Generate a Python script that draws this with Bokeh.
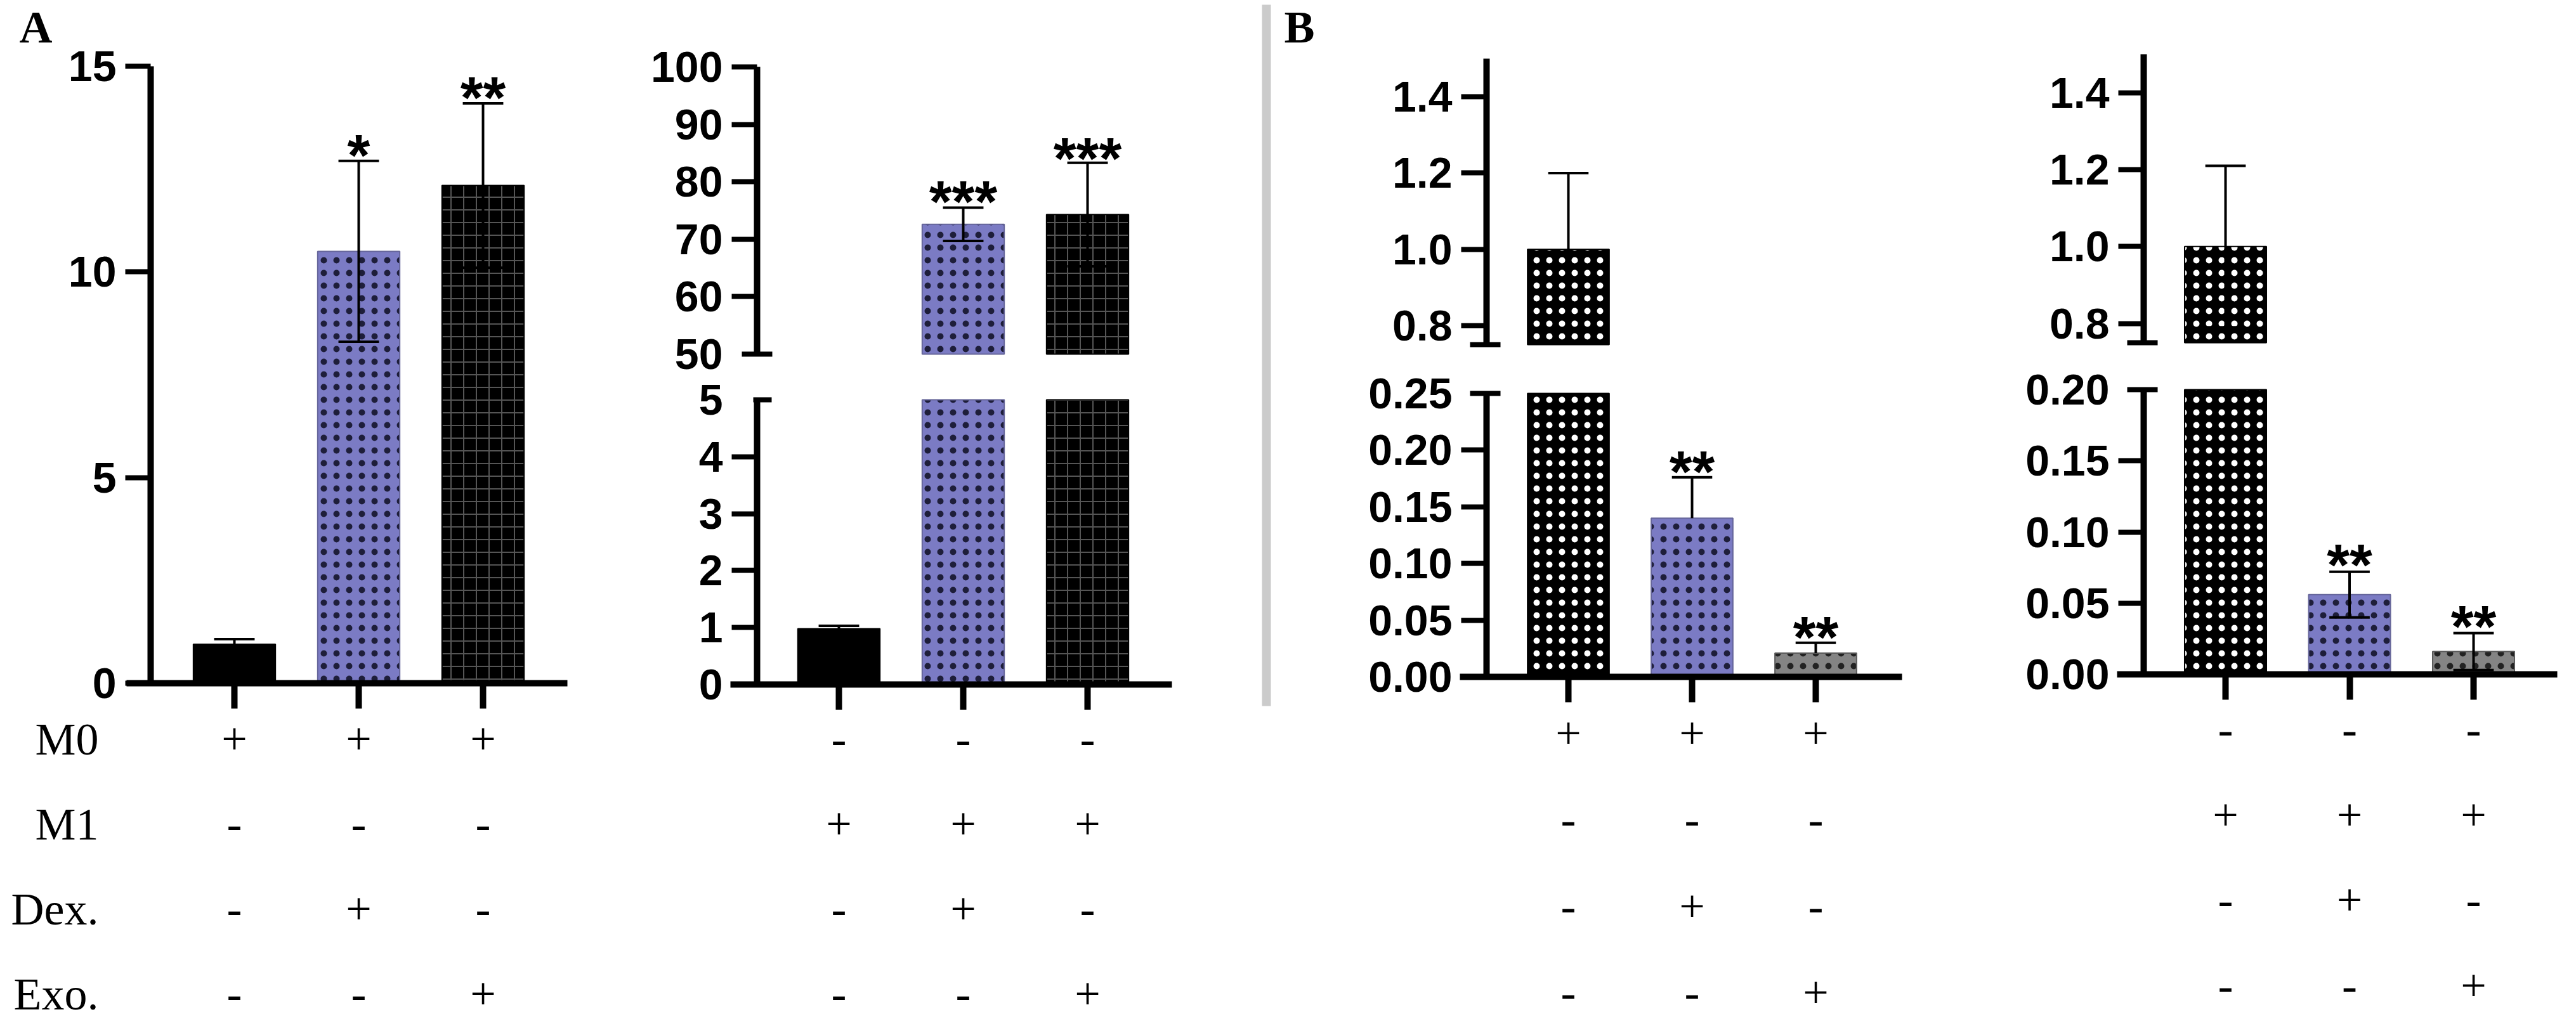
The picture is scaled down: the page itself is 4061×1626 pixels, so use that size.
import numpy as np
from bokeh.plotting import figure
from bokeh.layouts import row, column
from bokeh.models import Range1d, FixedTicker, LinearAxis, Label, PrintfTickFormatter
from bokeh.embed import file_html
from bokeh.resources import INLINE
from bokeh.core.properties import value

# ---------------- data ----------------
groups = [0, 1, 2]
row_names = ["M0", "M1", "Dex.", "Exo."]

a1_mean = [0.95, 10.5, 12.1]
a1_err = [0.12, 2.2, 2.0]
a1_star = ["", "*", "**"]
a1_star_y = [0.0, 13.15, 14.55]
a1_ticks = [0, 5, 10, 15]

a2_mean = [0.98, 72.6, 74.3]
a2_err = [0.05, 2.9, 9.0]
a2_star = ["", "***", "***"]
a2_star_y = [0.0, 78.7, 86.3]
a2_low_ticks = [0, 1, 2, 3, 4, 5]
a2_up_ticks = [50, 60, 70, 80, 90, 100]

b1_mean = [1.0, 0.140, 0.021]
b1_err = [0.20, 0.036, 0.009]
b1_star = ["", "**", "**"]
b1_star_y = [0.0, 0.192, 0.046]
b1_low_ticks = [0.0, 0.05, 0.10, 0.15, 0.20, 0.25]
b_up_ticks = [0.8, 1.0, 1.2, 1.4]

b2_mean = [1.0, 0.056, 0.016]
b2_err = [0.21, 0.016, 0.013]
b2_star = ["", "**", "**"]
b2_star_y = [0.0, 0.0857, 0.0424]
b2_low_ticks = [0.0, 0.05, 0.10, 0.15, 0.20]

m0_signs = {"M0": ["+", "+", "+"], "M1": ["-", "-", "-"],
            "Dex.": ["-", "+", "-"], "Exo.": ["-", "-", "+"]}
m1_signs = {"M0": ["-", "-", "-"], "M1": ["+", "+", "+"],
            "Dex.": ["-", "+", "-"], "Exo.": ["-", "-", "+"]}

# ---------------- styles ----------------
BLUE = "#7b7bc4"
styles_A = [
    dict(fill="black", line="black", hatch=None),
    dict(fill=BLUE, line="#66669a", hatch="dot", hcolor="#1e1e3a", hscale=20, hweight=2),
    dict(fill="black", line="black", hatch="cross", hcolor="#555555", hscale=20, hweight=2),
]
styles_B = [
    dict(fill="black", line="black", hatch="dot", hcolor="white", hscale=20, hweight=1.5),
    dict(fill=BLUE, line="#66669a", hatch="dot", hcolor="#1e1e3a", hscale=20, hweight=2),
    dict(fill="#848484", line="#5a5a5a", hatch="dot", hcolor="#222222", hscale=20, hweight=2),
]

SANS = "Liberation Sans"
SERIF = "Liberation Serif"
TICK_FS = "68px"
STAR_FS = "92px"
TABLE_FS = "72px"
LETTER_FS = "72px"
BAR_W = 0.66
CAP_HALF = 0.163

# ---------------- layout (page pixels) ----------------
PANELS = {
    "A1": dict(col_x0=8, col_w=992, frame_l=207, frame_r=902, c0=377, step=196.0, axis=245, split=1130),
    "A2": dict(col_x0=1000, col_w=990, frame_l=1159, frame_r=1855, c0=1330, step=196.0, axis=1201, split=1130),
    "B1": dict(col_x0=2020, col_w=1160, frame_l=2309, frame_r=3006, c0=2480, step=195.0, axis=2351, split=1118),
    "B2": dict(col_x0=3180, col_w=873, frame_l=3345, frame_r=4039, c0=3516, step=195.5, axis=3387, split=1113),
}
PAGE_TOP, PAGE_BOT = 8, 1618
NAME_RIGHT_PX = 163


def px2x(P, px):
    return (px - P["c0"]) / P["step"]


def xr_for(P):
    return Range1d(px2x(P, P["col_x0"]), px2x(P, P["col_x0"] + P["col_w"]))


def new_fig(P, top, bot, xr, yr):
    p = figure(width=P["col_w"], height=bot - top, x_range=xr, y_range=yr,
               output_backend="svg", toolbar_location=None, title=None,
               x_axis_location=None, y_axis_location=None,
               min_border_left=0, min_border_right=0, min_border_top=0, min_border_bottom=0)
    p.grid.visible = False
    p.outline_line_color = None
    p.border_fill_color = "white"
    p.background_fill_color = "white"
    return p


def cover_range(seg, top, bot):
    # data range spanning the whole figure height for one axis segment
    y0, y1 = seg["yr"]
    s = (y1 - y0) / (seg["fbot"] - seg["ftop"])
    return Range1d(y0 - (bot - seg["fbot"]) * s, y1 + (seg["ftop"] - top) * s)


def blank_labels(ticks):
    return {t: "" for t in ticks}


def add_y_axes(p, P, seg, rname):
    y0, y1 = seg["yr"]
    loc = px2x(P, P["axis"])
    la = LinearAxis(y_range_name=rname, ticker=FixedTicker(ticks=seg["labels"]),
                    formatter=PrintfTickFormatter(format=seg["fmt"]),
                    fixed_location=loc, bounds=(y0, y1),
                    axis_line_width=10, axis_line_color="black",
                    major_tick_line_color=None, major_tick_out=40, major_tick_in=0,
                    minor_tick_line_color=None, major_label_standoff=14,
                    major_label_text_font=SANS, major_label_text_font_style="bold",
                    major_label_text_font_size=TICK_FS, major_label_text_color="black")
    p.add_layout(la, "left")
    ta = LinearAxis(y_range_name=rname, ticker=FixedTicker(ticks=seg["regular"]),
                    fixed_location=loc, bounds=(y0, y1), axis_line_color=None,
                    major_tick_out=40, major_tick_in=0, major_tick_line_width=8,
                    major_tick_line_color="black", minor_tick_line_color=None,
                    major_label_overrides=blank_labels(seg["regular"]),
                    major_label_text_font_size="0px")
    p.add_layout(ta, "left")
    if seg.get("brk"):
        ba = LinearAxis(y_range_name=rname, ticker=FixedTicker(ticks=seg["brk"]),
                        fixed_location=loc, bounds=(y0, y1), axis_line_color=None,
                        major_tick_out=seg["brk_out"], major_tick_in=seg["brk_in"],
                        major_tick_line_width=8, major_tick_line_color="black",
                        minor_tick_line_color=None,
                        major_label_overrides=blank_labels(seg["brk"]),
                        major_label_text_font_size="0px")
        p.add_layout(ba, "left")


def draw_segment(p, seg, rname, mean, err, both, stars, star_y, styles):
    y0, y1 = seg["yr"]
    # bars, limited to this axis segment
    for i in groups:
        if mean[i] <= y0:
            continue
        st = styles[i]
        kw = dict(x=[i], width=BAR_W, bottom=[y0], top=[min(mean[i], y1)],
                  fill_color=st["fill"], line_color=st["line"], line_width=2,
                  y_range_name=rname)
        if st["hatch"]:
            kw.update(hatch_pattern=st["hatch"], hatch_color=st["hcolor"],
                      hatch_scale=st["hscale"], hatch_weight=st["hweight"])
        p.vbar(**kw)
    # error bars, limited to this axis segment
    for i in groups:
        hi = mean[i] + err[i]
        lo = mean[i] - err[i] if both else mean[i]
        a, b = max(lo, y0), min(hi, y1)
        if a < b:
            p.segment(x0=[i], y0=[a], x1=[i], y1=[b], line_color="black", line_width=4,
                      y_range_name=rname)
        caps = [hi] + ([lo] if both else [])
        for c in caps:
            if y0 <= c <= y1:
                p.segment(x0=[i - CAP_HALF], y0=[c], x1=[i + CAP_HALF], y1=[c],
                          line_color="black", line_width=4, y_range_name=rname)
    # significance stars
    sx, sy, stext = [], [], []
    for i in groups:
        if stars[i] and y0 <= star_y[i] <= y1:
            sx.append(i); sy.append(star_y[i]); stext.append(stars[i])
    if sx:
        p.text(x=sx, y=sy, text=stext, text_font=value(SANS), text_font_style="bold",
               text_font_size=STAR_FS, text_align="center", text_baseline="middle",
               y_offset=20, text_color="black", y_range_name=rname)


def panel_fig(P, lower, upper, mean, err, both, stars, star_y, styles, letter=None):
    top, bot = PAGE_TOP, P["split"]
    p = new_fig(P, top, bot, xr_for(P), cover_range(lower, top, bot))
    segs = [(lower, "default")]
    if upper is not None:
        p.extra_y_ranges = {"upper": cover_range(upper, top, bot)}
        segs.append((upper, "upper"))
    for seg, rname in segs:
        add_y_axes(p, P, seg, rname)
        draw_segment(p, seg, rname, mean, err, both, stars, star_y, styles)
    # x axis at the bottom of the lower segment
    xa = LinearAxis(ticker=FixedTicker(ticks=groups), fixed_location=lower["yr"][0],
                    bounds=(px2x(P, P["frame_l"]), px2x(P, P["frame_r"])),
                    axis_line_width=10, axis_line_color="black",
                    major_tick_out=40, major_tick_in=0, major_tick_line_width=10,
                    major_tick_line_color="black", minor_tick_line_color=None,
                    major_label_overrides=blank_labels(groups),
                    major_label_text_font_size="0px", major_label_standoff=0)
    p.add_layout(xa, "below")
    if letter:
        text, px, py = letter
        y0, y1 = lower["yr"]
        yd = y1 + (lower["ftop"] - py) * (y1 - y0) / (lower["fbot"] - lower["ftop"])
        p.add_layout(Label(x=px2x(P, px), y=yd, text=text, text_font=SERIF,
                           text_font_style="bold", text_font_size=LETTER_FS,
                           text_align="left", text_baseline="middle", text_color="black"))
    return p


def table_fig(P, signs, m0_px, spacing, show_names):
    top, bot = P["split"], PAGE_BOT
    y_end = 3 + (m0_px - top) / spacing
    y_start = 3 - (bot - m0_px) / spacing
    p = new_fig(P, top, bot, xr_for(P), Range1d(y_start, y_end))
    row_val = {name: 3 - k for k, name in enumerate(row_names)}
    xs, ys, ts = [], [], []
    for name in row_names:
        for i in groups:
            xs.append(i); ys.append(row_val[name]); ts.append(signs[name][i])
    p.text(x=xs, y=ys, text=ts, text_font=value(SERIF), text_font_size=TABLE_FS,
           text_align="center", text_baseline="middle", y_offset=2, text_color="black")
    if show_names:
        nx = [px2x(P, NAME_RIGHT_PX)] * len(row_names)
        ny = [row_val[n] for n in row_names]
        p.text(x=nx, y=ny, text=row_names, text_font=value(SERIF), text_font_size=TABLE_FS,
               text_align="right", text_baseline="middle", y_offset=2, text_color="black")
    return p


# ---------------- panel A1 ----------------
PA1 = PANELS["A1"]
segA1 = dict(ftop=112, fbot=1085, yr=(0, 15), labels=a1_ticks, fmt="%d",
             regular=a1_ticks, brk=None)
figA1 = panel_fig(PA1, segA1, None, a1_mean, a1_err, True, a1_star, a1_star_y, styles_A,
                  letter=("A", 38, 50))
tabA1 = table_fig(PA1, m0_signs, 1171, 134.0, True)

# ---------------- panel A2 ----------------
PA2 = PANELS["A2"]
segA2u = dict(ftop=113, fbot=566, yr=(50, 100), labels=a2_up_ticks, fmt="%d",
              regular=a2_up_ticks[1:], brk=[50], brk_out=24, brk_in=24)
segA2l = dict(ftop=638, fbot=1087, yr=(0, 5), labels=a2_low_ticks, fmt="%d",
              regular=a2_low_ticks[:-1], brk=[5], brk_out=6, brk_in=23)
figA2 = panel_fig(PA2, segA2l, segA2u, a2_mean, a2_err, True, a2_star, a2_star_y, styles_A)
tabA2 = table_fig(PA2, m1_signs, 1171, 134.0, False)

# ---------------- separator ----------------
sep = figure(width=30, height=1127, x_range=(0, 1), y_range=(0, 1), output_backend="svg",
             toolbar_location=None, title=None, x_axis_location=None, y_axis_location=None,
             min_border_left=7, min_border_right=9, min_border_top=7, min_border_bottom=14)
sep.grid.visible = False
sep.outline_line_color = None
sep.border_fill_color = "white"
sep.background_fill_color = "#cbcbcb"

# ---------------- panel B1 ----------------
PB1 = PANELS["B1"]
segB1u = dict(ftop=100, fbot=551, yr=(0.75, 1.5), labels=b_up_ticks, fmt="%.1f",
              regular=b_up_ticks, brk=[0.75], brk_out=26, brk_in=22)
segB1l = dict(ftop=628, fbot=1075, yr=(0, 0.25), labels=b1_low_ticks, fmt="%.2f",
              regular=b1_low_ticks[:-1], brk=[0.25], brk_out=26, brk_in=22)
figB1 = panel_fig(PB1, segB1l, segB1u, b1_mean, b1_err, False, b1_star, b1_star_y, styles_B,
                  letter=("B", 2032, 50))
tabB1 = table_fig(PB1, m0_signs, 1162, 136.3, False)

# ---------------- panel B2 ----------------
PB2 = PANELS["B2"]
segB2u = dict(ftop=93, fbot=548, yr=(0.75, 1.5), labels=b_up_ticks, fmt="%.1f",
              regular=b_up_ticks, brk=[0.75], brk_out=26, brk_in=22)
segB2l = dict(ftop=622, fbot=1071, yr=(0, 0.2), labels=b2_low_ticks, fmt="%.2f",
              regular=b2_low_ticks[:-1], brk=[0.2], brk_out=26, brk_in=22)
figB2 = panel_fig(PB2, segB2l, segB2u, b2_mean, b2_err, True, b2_star, b2_star_y, styles_B)
tabB2 = table_fig(PB2, m1_signs, 1156, 134.5, False)

layout = row(
    column(figA1, tabA1),
    column(figA2, tabA2),
    column(sep),
    column(figB1, tabB1),
    column(figB2, tabB2),
)

open("out.html", "w").write(file_html(layout, INLINE))
